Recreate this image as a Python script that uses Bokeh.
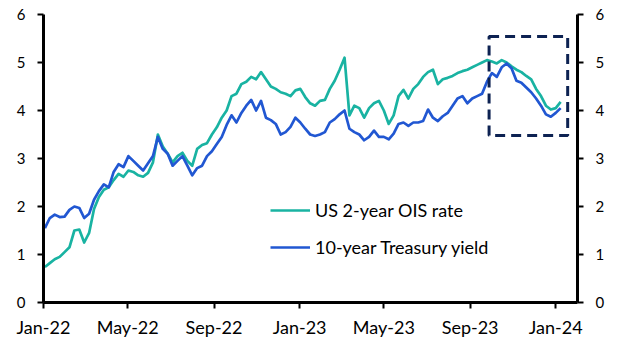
import pandas as pd
from bokeh.plotting import figure
from bokeh.models import (Range1d, LinearAxis, FixedTicker, CustomJSTickFormatter,
                          BoxAnnotation, Legend, LegendItem, ColumnDataSource)
from bokeh.embed import file_html
from bokeh.resources import INLINE

# ---- data (weekly readings, starting first Monday of 2022) ----
start_date = "2022-01-03"

ois_2y = [
    0.74, 0.82, 0.90, 0.95, 1.05, 1.15, 1.50, 1.52, 1.25, 1.45,
    1.95, 2.20, 2.35, 2.40, 2.55, 2.68, 2.62, 2.75, 2.72, 2.65,
    2.62, 2.70, 2.92, 3.50, 3.25, 3.10, 2.92, 3.05, 3.12, 2.95,
    2.85, 3.20, 3.28, 3.32, 3.50, 3.65, 3.85, 4.00, 4.30, 4.35,
    4.55, 4.60, 4.70, 4.65, 4.80, 4.65, 4.50, 4.45, 4.38, 4.35,
    4.30, 4.42, 4.45, 4.28, 4.15, 4.10, 4.20, 4.22, 4.45, 4.62,
    4.85, 5.10, 3.90, 4.10, 4.05, 3.85, 4.05, 4.15, 4.20, 4.00,
    3.72, 3.90, 4.30, 4.43, 4.25, 4.45, 4.55, 4.70, 4.80, 4.85,
    4.55, 4.65, 4.68, 4.72, 4.78, 4.82, 4.85, 4.90, 4.95, 5.00,
    5.05, 5.02, 4.98, 5.05, 5.00, 4.92, 4.85, 4.80, 4.72, 4.65,
    4.45, 4.30, 4.10, 4.02, 4.05, 4.18,
]

ust_10y = [
    1.55, 1.76, 1.83, 1.78, 1.79, 1.93, 2.00, 1.97, 1.76, 1.85,
    2.14, 2.32, 2.46, 2.40, 2.72, 2.88, 2.82, 3.05, 2.95, 2.85,
    2.75, 2.90, 3.05, 3.45, 3.20, 3.10, 2.85, 2.95, 3.05, 2.85,
    2.65, 2.80, 2.85, 3.05, 3.15, 3.30, 3.45, 3.70, 3.90, 3.75,
    3.95, 4.10, 4.22, 4.00, 4.20, 3.85, 3.80, 3.72, 3.50, 3.55,
    3.66, 3.85, 3.75, 3.62, 3.50, 3.47, 3.50, 3.55, 3.75, 3.82,
    3.92, 4.00, 3.62, 3.55, 3.50, 3.38, 3.45, 3.58, 3.45, 3.45,
    3.40, 3.52, 3.72, 3.75, 3.68, 3.75, 3.75, 3.78, 4.02, 3.85,
    3.78, 3.88, 3.95, 4.10, 4.25, 4.30, 4.15, 4.25, 4.30, 4.35,
    4.60, 4.78, 4.70, 4.90, 4.98, 4.88, 4.62, 4.58, 4.48, 4.38,
    4.25, 4.10, 3.92, 3.87, 3.95, 4.05,
]

series_labels = ["US 2-year OIS rate", "10-year Treasury yield"]
tick_dates = ["2022-01-01", "2022-05-01", "2022-09-01", "2023-01-01",
              "2023-05-01", "2023-09-01", "2024-01-01"]
tick_labels = ["Jan-22", "May-22", "Sep-22", "Jan-23", "May-23", "Sep-23", "Jan-24"]
y_ticks = [0, 1, 2, 3, 4, 5, 6]

x_start, x_end = "2022-01-01", "2024-02-01"
box_dates = ["2023-09-28", "2024-01-18"]
box_values = [3.48, 5.54]

TEAL = "#19b3a2"
BLUE = "#2157d2"
NAVY = "#0d2252"
FONT = "Lato"


def ms(d):
    return pd.Timestamp(d).value / 1e6


dates = pd.date_range(start_date, periods=len(ois_2y), freq="7D")
src = ColumnDataSource(dict(date=dates, ois=ois_2y, ust=ust_10y))

p = figure(width=618, height=341, x_axis_type="datetime",
           output_backend="svg", toolbar_location=None,
           x_range=Range1d(ms(x_start), ms(x_end)), y_range=Range1d(0, 6),
           min_border_left=43, min_border_right=41,
           min_border_top=14, min_border_bottom=39)
p.outline_line_color = None
p.grid.visible = False
p.background_fill_color = "white"
p.border_fill_color = "white"

r_ois = p.line("date", "ois", source=src, line_color=TEAL, line_width=2.7,
               line_join="round")
r_ust = p.line("date", "ust", source=src, line_color=BLUE, line_width=2.7,
               line_join="round")

box = BoxAnnotation(left=ms(box_dates[0]), right=ms(box_dates[1]),
                    bottom=box_values[0], top=box_values[1],
                    fill_alpha=0, line_color=NAVY, line_alpha=1.0,
                    line_width=3, line_dash="10 6")
p.add_layout(box)

right_axis = LinearAxis()
p.add_layout(right_axis, "right")

for ax in [p.yaxis[0], right_axis]:
    ax.ticker = FixedTicker(ticks=y_ticks)
    ax.axis_line_width = 3
    ax.axis_line_color = "black"
    ax.major_tick_line_width = 2
    ax.major_tick_line_color = "black"
    ax.major_tick_in = 0
    ax.major_tick_out = 6
    ax.minor_tick_line_color = None
    ax.major_label_text_font = FONT
    ax.major_label_text_font_size = "15px"
    ax.major_label_text_color = "black"
    ax.major_label_standoff = 12

xa = p.xaxis[0]
xa.ticker = FixedTicker(ticks=[ms(d) for d in tick_dates])
xa.formatter = CustomJSTickFormatter(
    args=dict(vals=[ms(d) for d in tick_dates], labels=tick_labels),
    code="""
    let best = 0, bd = Infinity;
    for (let i = 0; i < vals.length; i++) {
        const d = Math.abs(vals[i] - tick);
        if (d < bd) { bd = d; best = i; }
    }
    return labels[best];
    """)
xa.axis_line_width = 3
xa.axis_line_color = "black"
xa.major_tick_line_width = 2
xa.major_tick_line_color = "black"
xa.major_tick_in = 0
xa.major_tick_out = 6
xa.minor_tick_line_color = None
xa.major_label_text_font = FONT
xa.major_label_text_font_size = "18px"
xa.major_label_text_color = "black"
xa.major_label_standoff = 7

legend = Legend(items=[LegendItem(label=series_labels[0], renderers=[r_ois]),
                       LegendItem(label=series_labels[1], renderers=[r_ust])],
                location=(227, 44), orientation="vertical",
                border_line_alpha=0, background_fill_alpha=0,
                padding=0, margin=0, spacing=15,
                glyph_width=40, glyph_height=20, label_height=20,
                label_standoff=5, label_text_font=FONT,
                label_text_font_size="18px", label_text_color="black")
p.add_layout(legend)

open("out.html", "w").write(file_html(p, INLINE))
